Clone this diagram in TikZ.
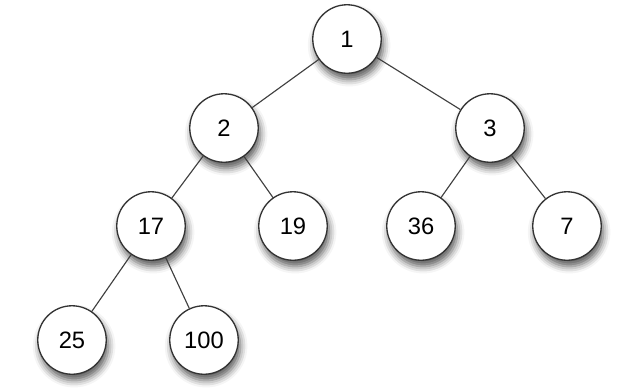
\documentclass[tikz,border=0pt]{standalone}
\usepackage{fontspec}
\setmainfont{Liberation Sans}
\usetikzlibrary{shadows.blur}

\begin{document}
\begin{tikzpicture}[x=0.02cm,y=-0.02cm]
  \tikzset{key/.style={circle,draw=black!80,line width=0.75pt,fill=white,
      minimum size=1.37cm,inner sep=0pt,font=\fontsize{13.5}{15}\selectfont,
      blur shadow={shadow xshift=1.2pt,shadow yshift=-3.5pt,shadow blur radius=4pt,shadow opacity=65}},
    edge/.style={draw=black!75,line width=0.65pt}}
  \useasboundingbox (0,0) rectangle (636,390);
  \node[key] (n1) at (347,39){1};
  \node[key] (n2) at (224,128){2};
  \node[key] (n3) at (490,128){3};
  \node[key] (n17) at (151,226){17};
  \node[key] (n19) at (293,226){19};
  \node[key] (n36) at (421,226){36};
  \node[key] (n7) at (567,226){7};
  \node[key] (n25) at (72,340){25};
  \node[key] (n100) at (204,340){100};
  \path[edge] (n1)--(n2) (n1)--(n3);
  \path[edge] (n2)--(n17) (n2)--(n19);
  \path[edge] (n3)--(n36) (n3)--(n7);
  \path[edge] (n17)--(n25) (n17)--(n100);
\end{tikzpicture}
\end{document}
